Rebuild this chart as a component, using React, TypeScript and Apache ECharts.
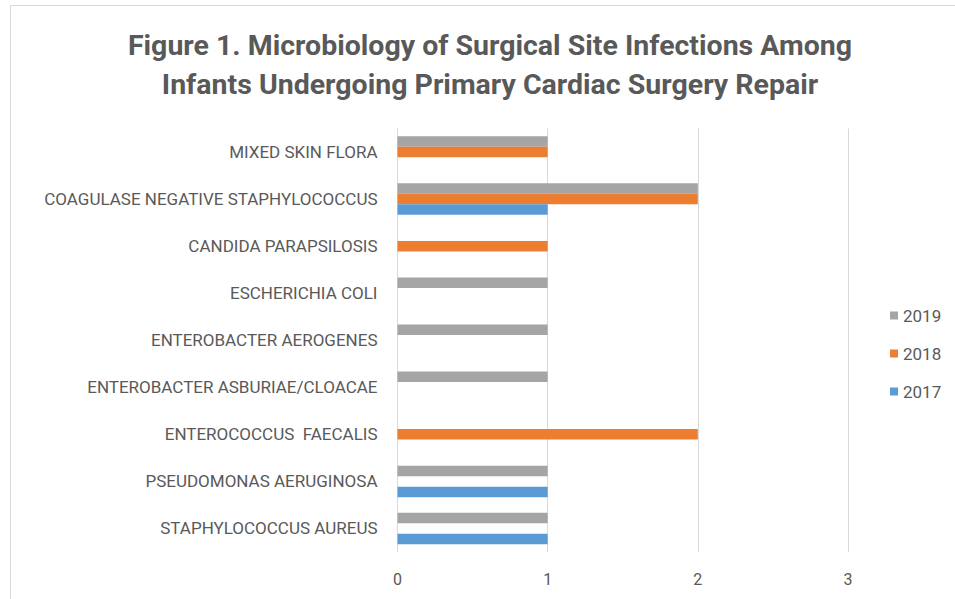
import React, { useEffect, useRef } from "react";
import * as echarts from "echarts";

const categories = [
  "STAPHYLOCOCCUS AUREUS",
  "PSEUDOMONAS AERUGINOSA",
  "ENTEROCOCCUS  FAECALIS",
  "ENTEROBACTER ASBURIAE/CLOACAE",
  "ENTEROBACTER AEROGENES",
  "ESCHERICHIA COLI",
  "CANDIDA PARAPSILOSIS",
  "COAGULASE NEGATIVE STAPHYLOCOCCUS",
  "MIXED SKIN FLORA",
];
const values2017 = [1, 1, 0, 0, 0, 0, 0, 1, 0];
const values2018 = [0, 0, 2, 0, 0, 0, 1, 2, 1];
const values2019 = [1, 1, 0, 1, 1, 1, 0, 2, 1];
const xTicks = [0, 1, 2, 3];
const titleLines = [
  "Figure 1. Microbiology of Surgical Site Infections Among",
  "Infants Undergoing Primary Cardiac Surgery Repair",
];

const FONT = "Roboto, 'Noto Sans', sans-serif";
const TEXT = "#595959";

export default function App() {
  const ref = useRef<HTMLDivElement>(null);
  useEffect(() => {
    if (!ref.current) return;
    const chart = echarts.init(ref.current, undefined, { renderer: "svg" });
    const barStyle = (color: string) => ({ color });
    chart.setOption({
      animation: false,
      backgroundColor: "#ffffff",
      textStyle: { fontFamily: FONT },
      graphic: [
        {
          type: "rect",
          shape: { x: 10.5, y: 5.5, width: 960, height: 610 },
          style: { fill: "none", stroke: "#d9d9d9", lineWidth: 1 },
          silent: true,
        },
        {
          type: "text",
          x: 490,
          y: 45,
          style: {
            text: titleLines[0],
            fontFamily: FONT,
            fontSize: 28.5,
            fontWeight: "bold",
            fill: TEXT,
            align: "center",
            verticalAlign: "middle",
          },
        },
        {
          type: "text",
          x: 490,
          y: 84,
          style: {
            text: titleLines[1],
            fontFamily: FONT,
            fontSize: 28.5,
            fontWeight: "bold",
            fill: TEXT,
            align: "center",
            verticalAlign: "middle",
          },
        },
      ],
      legend: {
        orient: "vertical",
        left: 890,
        top: 307,
        itemWidth: 8,
        itemHeight: 8,
        itemGap: 21,
        icon: "rect",
        data: ["2019", "2018", "2017"],
        textStyle: { fontFamily: FONT, fontSize: 17, color: TEXT, padding: [0, 0, 0, 0] },
        padding: 0,
      },
      grid: { left: 397.5, right: 107, top: 128.5, bottom: 47, containLabel: false },
      xAxis: {
        type: "value",
        min: xTicks[0],
        max: xTicks[xTicks.length - 1],
        interval: 1,
        axisLine: { show: false },
        axisTick: { show: false },
        splitLine: { show: true, lineStyle: { color: "#d9d9d9", width: 1 } },
        axisLabel: { fontFamily: FONT, fontSize: 16, color: TEXT, margin: 19 },
      },
      yAxis: {
        type: "category",
        data: categories,
        axisLine: { show: false },
        axisTick: { show: false },
        splitLine: { show: false },
        axisLabel: { fontFamily: FONT, fontSize: 17, color: TEXT, margin: 20 },
      },
      series: [
        { name: "2019", type: "bar", data: values2019, barWidth: 10.5, barGap: "0%", itemStyle: barStyle("#a5a5a5") },
        { name: "2018", type: "bar", data: values2018, barWidth: 10.5, barGap: "0%", itemStyle: barStyle("#ed7d31") },
        { name: "2017", type: "bar", data: values2017, barWidth: 10.5, barGap: "0%", itemStyle: barStyle("#5b9bd5") },
      ],
    });
    return () => chart.dispose();
  }, []);
  return (
    <div
      ref={ref}
      style={{ position: "fixed", left: 0, top: 0, width: 955, height: 599 }}
    />
  );
}
